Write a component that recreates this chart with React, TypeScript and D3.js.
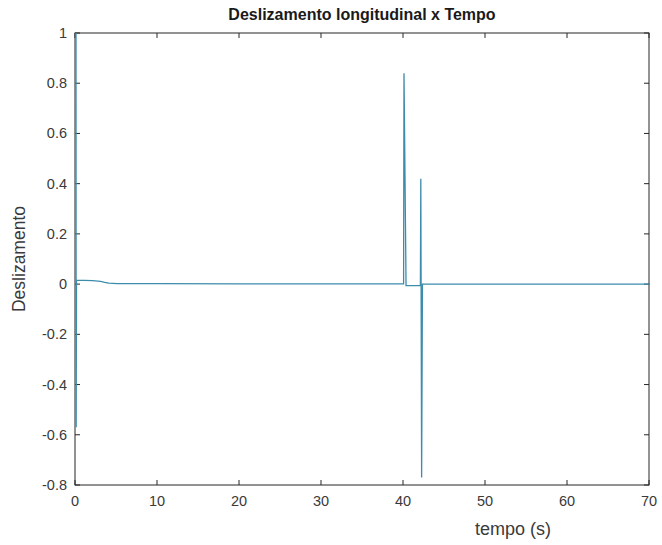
import React from "react";
import * as d3 from "d3";

// Longitudinal slip over time
const timeS = [0, 0.02, 0.06, 1, 2, 3, 3.5, 4, 5, 10, 20, 30, 39.95, 40.0, 40.25, 42.0, 42.05, 42.15, 42.25, 70];
const slip = [1, -0.57, 0.015, 0.015, 0.014, 0.011, 0.007, 0.004, 0.002, 0.002, 0.001, 0.001, 0.001, 0.84, -0.006, -0.006, 0.42, -0.77, 0.0, 0.0];

const xTicks = [0, 10, 20, 30, 40, 50, 60, 70];
const yTicks = [-0.8, -0.6, -0.4, -0.2, 0, 0.2, 0.4, 0.6, 0.8, 1];

const W = 662;
const H = 545;
const left = 75;
const right = 649;
const top = 33;
const bottom = 485;

export default function App() {
  const x = d3.scaleLinear().domain([0, 70]).range([left, right]);
  const y = d3.scaleLinear().domain([-0.8, 1]).range([bottom, top]);
  const line = d3
    .line<number>()
    .x((_, i) => x(timeS[i]) + 1)
    .y((d) => y(d));
  const axisColor = "#262626";
  const font = "'Liberation Sans', Arial, sans-serif";
  const tickLen = 5;
  const fmt = (v: number) => (Math.abs(v) < 1e-9 ? "0" : String(+v.toFixed(1)));

  return (
    <svg
      width={W}
      height={H}
      style={{ position: "absolute", left: 0, top: 0, background: "#fff" }}
      fontFamily={font}
    >
      <rect x={0} y={0} width={W} height={H} fill="#fff" />
      {/* box */}
      <rect
        x={left}
        y={top}
        width={right - left}
        height={bottom - top}
        fill="none"
        stroke={axisColor}
        strokeWidth={1}
      />
      {/* x ticks */}
      {xTicks.map((t) => (
        <g key={"x" + t}>
          <line x1={x(t)} x2={x(t)} y1={bottom} y2={bottom - tickLen} stroke={axisColor} />
          <line x1={x(t)} x2={x(t)} y1={top} y2={top + tickLen} stroke={axisColor} />
          <text
            x={x(t)}
            y={bottom + 21}
            textAnchor="middle"
            fontSize={14.5}
            fill="#3a3a3a"
          >
            {t}
          </text>
        </g>
      ))}
      {/* y ticks */}
      {yTicks.map((t) => (
        <g key={"y" + t}>
          <line x1={left} x2={left + tickLen} y1={y(t)} y2={y(t)} stroke={axisColor} />
          <line x1={right} x2={right - tickLen} y1={y(t)} y2={y(t)} stroke={axisColor} />
          <text
            x={left - 8}
            y={y(t) + 5}
            textAnchor="end"
            fontSize={14.5}
            fill="#3a3a3a"
          >
            {fmt(t)}
          </text>
        </g>
      ))}
      <path
        d={line(slip) || ""}
        fill="none"
        stroke="#3d8cab"
        strokeWidth={1.3}
      />
      <text
        x={(left + right) / 2}
        y={20}
        textAnchor="middle"
        fontSize={16}
        fontWeight="bold"
        fill="#1a1a1a"
      >
        Deslizamento longitudinal x Tempo
      </text>
      <text x={513} y={535} textAnchor="middle" fontSize={18} fill="#3a3a3a">
        tempo (s)
      </text>
      <text
        transform={`translate(25, ${(top + bottom) / 2}) rotate(-90)`}
        textAnchor="middle"
        fontSize={17.5}
        fill="#3a3a3a"
      >
        Deslizamento
      </text>
    </svg>
  );
}
